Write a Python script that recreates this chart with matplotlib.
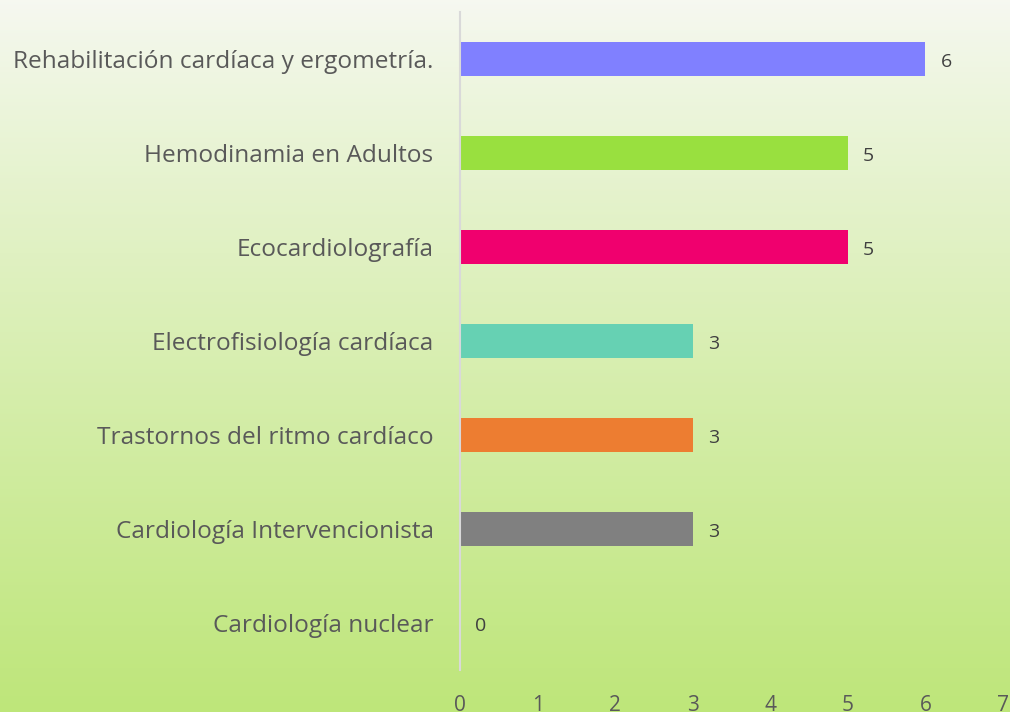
import numpy as np
import matplotlib.pyplot as plt

plt.rcParams["font.family"] = ["Open Sans", "DejaVu Sans"]

# datos (de arriba hacia abajo)
categorias = [
    "Rehabilitación cardíaca y ergometría.",
    "Hemodinamia en Adultos",
    "Ecocardiolografía",
    "Electrofisiología cardíaca",
    "Trastornos del ritmo cardíaco",
    "Cardiología Intervencionista",
    "Cardiología nuclear",
]
valores = [6, 5, 5, 3, 3, 3, 0]
colores = ["#8080FF", "#99E03F", "#F0006E", "#66D1B3", "#ED7D31", "#808080", "#5B9BD5"]

fig = plt.figure(figsize=(10.1, 7.12), dpi=100)

# fondo degradado blanco -> verde
bg = fig.add_axes([0, 0, 1, 1], zorder=-1)
grad = np.linspace(0, 1, 256).reshape(-1, 1)
top = np.array([0.965, 0.973, 0.945])
bottom = np.array([0.745, 0.902, 0.478])
img = top + (bottom - top) * grad[:, :, None] ** 0.9
bg.imshow(img, aspect="auto", extent=[0, 1, 0, 1], origin="upper")
bg.axis("off")

ax = fig.add_axes([460 / 1010, 1 - 670 / 712, (1003 - 460) / 1010, (670 - 12) / 712])
ax.patch.set_alpha(0)

y = np.arange(len(categorias))[::-1]
ax.barh(y, valores, height=0.36, color=colores)

for yi, v in zip(y, valores):
    ax.annotate(str(v), (v, yi), xytext=(11, -2), textcoords="offset points",
                ha="left", va="center", fontsize=14, color="#404040")

ax.set_xlim(0, 7)
ax.set_ylim(-0.5, 6.5)
ax.set_yticks(y)
ax.set_yticklabels(categorias, fontsize=17.6, color="#595959")
ax.set_xticks(range(8))
ax.tick_params(axis="x", length=0, pad=18, labelsize=15, labelcolor="#595959")
ax.tick_params(axis="y", length=0, pad=19)

for s in ["top", "right", "bottom"]:
    ax.spines[s].set_visible(False)
ax.spines["left"].set_color("#D9D9D9")
ax.spines["left"].set_linewidth(1.5)

fig.savefig("out.png", dpi=100)
